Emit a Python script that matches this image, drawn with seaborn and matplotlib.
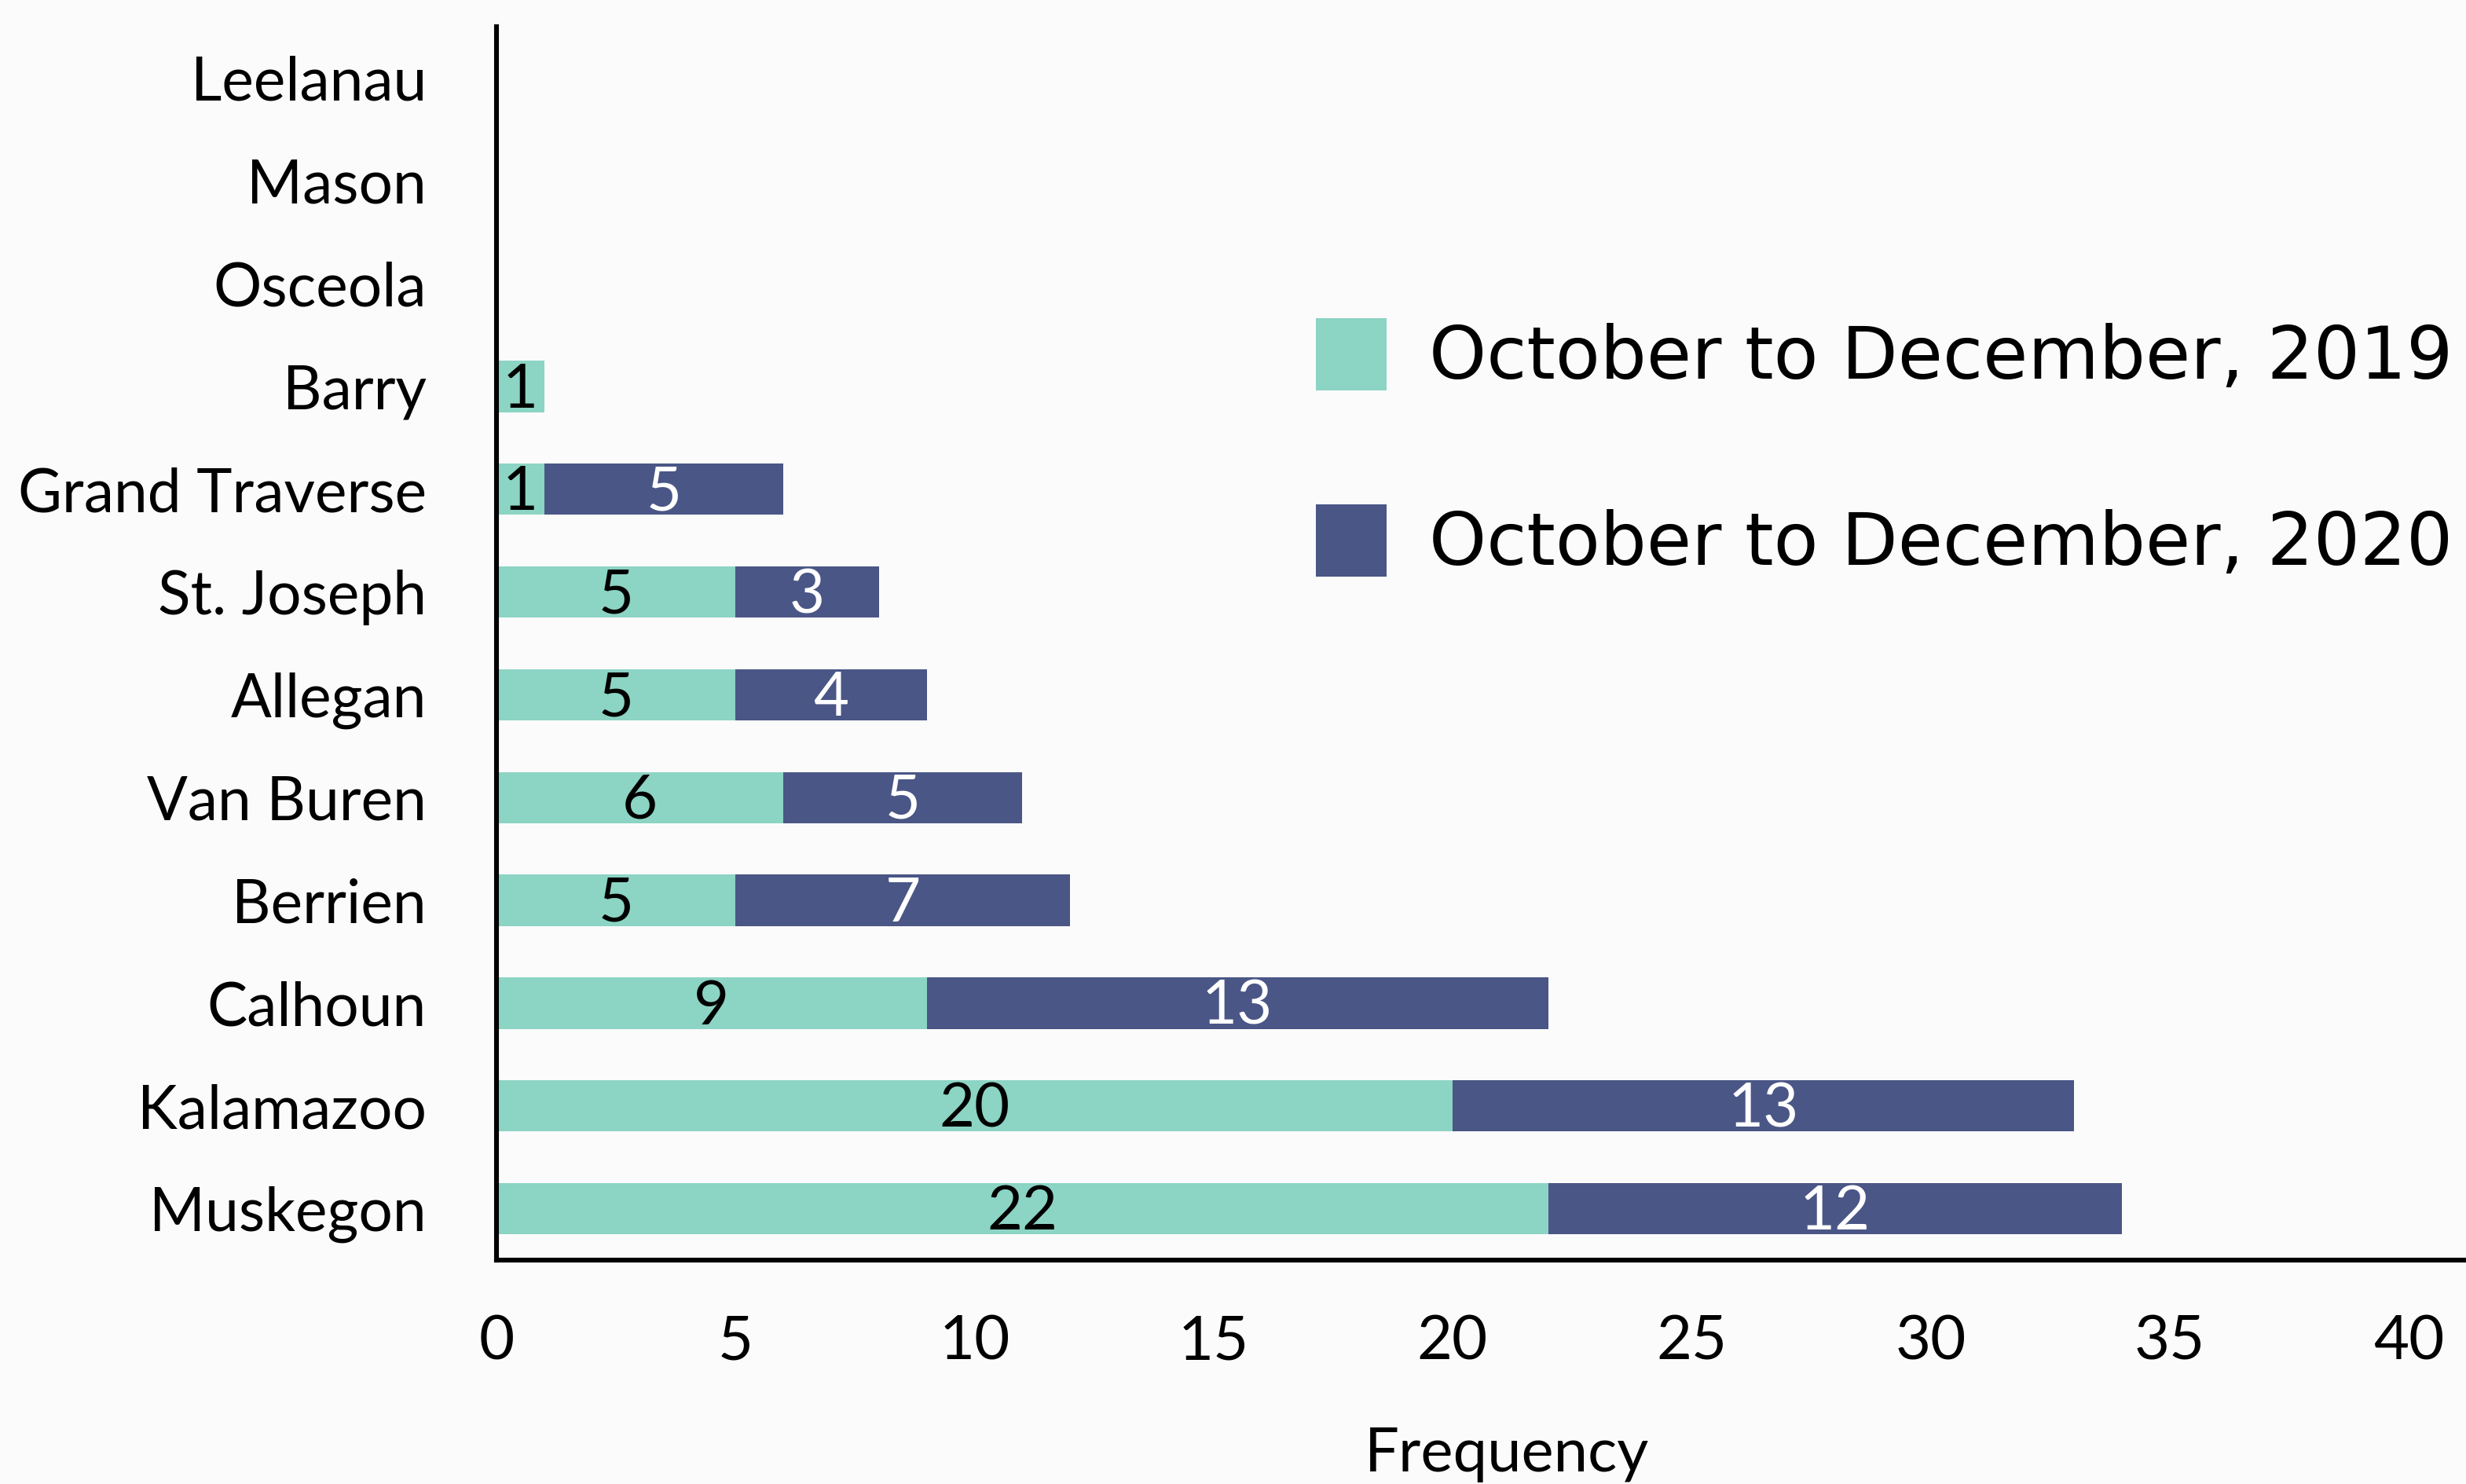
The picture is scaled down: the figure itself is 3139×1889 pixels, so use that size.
import pandas as pd
import seaborn as sns
import matplotlib.pyplot as plt

# Dados
counties = ['Leelanau', 'Mason', 'Osceola', 'Barry', 'Grand Traverse', 'St. Joseph',
            'Allegan', 'Van Buren', 'Berrien', 'Calhoun', 'Kalamazoo', 'Muskegon']
v2019 = [0, 0, 0, 1, 1, 5, 5, 6, 5, 9, 20, 22]
v2020 = [0, 0, 0, 0, 5, 3, 4, 5, 7, 13, 13, 12]
labels = ['October to December, 2019', 'October to December, 2020']

teal = '#8CD4C4'
navy = '#4A5686'
bg = '#FBFBFB'

df = pd.DataFrame({'County': counties, 'y2019': v2019, 'y2020': v2020})
df['total'] = df['y2019'] + df['y2020']

sns.set_style('white')
plt.rcParams['font.family'] = ['Lato', 'DejaVu Sans']
plt.rcParams['text.color'] = 'black'

fig = plt.figure(figsize=(15.695, 9.445), dpi=200, facecolor=bg)
ax = fig.add_axes([0.2013, 0.1509, 0.7987, 0.8311])
ax.set_facecolor(bg)

# barras empilhadas: total atrás, 2019 na frente
sns.barplot(data=df, x='total', y='County', color=navy, width=0.5, orient='h',
            saturation=1, linewidth=0, ax=ax, label=labels[1])
sns.barplot(data=df, x='y2019', y='County', color=teal, width=0.5, orient='h',
            saturation=1, linewidth=0, ax=ax, label=labels[0])

for i, row in df.iterrows():
    if row['y2019'] > 0:
        ax.text(row['y2019'] / 2, i + 0.04, str(row['y2019']), ha='center', va='center',
                fontsize=28, color='black')
    if row['y2020'] > 0:
        ax.text(row['y2019'] + row['y2020'] / 2, i + 0.04, str(row['y2020']), ha='center',
                va='center', fontsize=28, color='white')

ax.set_xlim(0, 41.2)
ax.set_ylim(11.5, -0.5)
ax.set_xticks(range(0, 41, 5))
ax.tick_params(axis='y', length=0, pad=32, labelsize=27.6, labelcolor='black')
ax.tick_params(axis='x', length=0, pad=25, labelsize=28, labelcolor='black')
ax.set_ylabel('')
ax.set_xlabel('Frequency', fontsize=28, color='black')
ax.xaxis.set_label_coords(0.513, -0.135)

for s in ['top', 'right']:
    ax.spines[s].set_visible(False)
for s in ['left', 'bottom']:
    ax.spines[s].set_color('black')
    ax.spines[s].set_linewidth(2.2)

handles, labs = ax.get_legend_handles_labels()
order = [labs.index(labels[0]), labs.index(labels[1])]
leg = ax.legend([handles[k] for k in order], [labs[k] for k in order],
                loc='upper left', bbox_to_anchor=(1628 / 3139, 1 - 358 / 1889),
                bbox_transform=fig.transFigure, frameon=False, borderpad=0,
                handlelength=0.97, handleheight=1.15, handletextpad=0.58,
                labelspacing=1.51, labelcolor='black',
                prop={'family': 'DejaVu Sans', 'size': 33.5})

fig.savefig('out.png', dpi=200, facecolor=bg)
